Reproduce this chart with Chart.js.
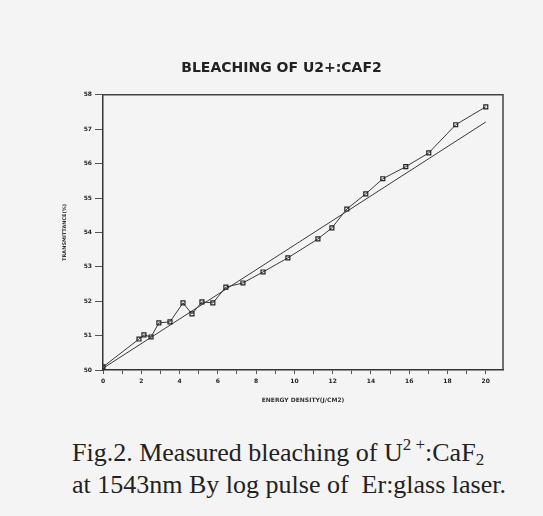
<!DOCTYPE html>
<html>
<head>
<meta charset="utf-8">
<script src="https://cdn.jsdelivr.net/npm/chart.js@4"></script>
<style>
    body { margin: 0; background: #f4f4f4; width: 543px; height: 516px; overflow: hidden; position: relative; }
    #wrap { position: absolute; left: 0; top: 0; width: 543px; height: 416px; }
    #caption {
        position: absolute; left: 72px; top: 437px;
        font-family: "Liberation Serif", serif; font-size: 26px; line-height: 32px;
        color: #222; white-space: nowrap;
    }
    #caption sup { font-size: 17px; line-height: 0; vertical-align: 11px; }
    #caption sub { font-size: 17px; line-height: 0; vertical-align: -4px; }
</style>
</head>
<body>
<div id="wrap"><canvas id="chart" width="543" height="416"></canvas></div>
<div id="caption">Fig.2. Measured bleaching of U<sup>2 +</sup>:CaF<sub>2</sub><br>at 1543nm By log pulse of&nbsp; Er:glass laser.</div>
<script>
const energy = [0, 1.88, 2.14, 2.51, 2.92, 3.50, 4.18, 4.65, 5.17, 5.74, 6.42, 7.31,
    8.36, 9.66, 11.23, 11.96, 12.74, 13.73, 14.62, 15.82, 17.02, 18.43, 20.0];
const transmission = [50.09, 50.90, 51.02, 50.96, 51.37, 51.40, 51.95, 51.63, 51.98, 51.95, 52.41, 52.53,
    52.85, 53.26, 53.81, 54.13, 54.68, 55.12, 55.56, 55.91, 56.31, 57.13, 57.65];

// Straight fit line end points
const fitEnergy = [0, 20];
const fitTransmission = [50.05, 57.21];

const lineColor = '#3a3a3a';
const axisFont = { family: 'DejaVu Sans', size: 6, weight: 'bold' };

// box around the plot: top and right edges
const frame = {
    id: 'frame',
    afterDraw(chart) {
        const a = chart.chartArea;
        const ctx = chart.ctx;
        ctx.save();
        ctx.strokeStyle = '#444';
        ctx.lineWidth = 1.5;
        ctx.beginPath();
        ctx.moveTo(a.left - 1, a.top);
        ctx.lineTo(a.right, a.top);
        ctx.lineTo(a.right, a.bottom);
        ctx.stroke();
        ctx.restore();
    }
};

new Chart(document.getElementById('chart'), {
    type: 'scatter',
    data: {
        datasets: [
            {
                data: energy.map((x, i) => ({ x: x, y: transmission[i] })),
                showLine: true,
                borderColor: lineColor,
                borderWidth: 1,
                pointStyle: 'rect',
                pointRadius: 2.8,
                pointBorderWidth: 1.2,
                pointBorderColor: '#222',
                pointBackgroundColor: 'rgba(0,0,0,0)'
            },
            {
                data: fitEnergy.map((x, i) => ({ x: x, y: fitTransmission[i] })),
                showLine: true,
                borderColor: lineColor,
                borderWidth: 1,
                pointRadius: 0
            }
        ]
    },
    options: {
        responsive: false,
        animation: false,
        layout: { padding: { left: 60, right: 40, top: 0, bottom: 10 } },
        plugins: {
            legend: { display: false },
            tooltip: { enabled: false },
            title: {
                display: true,
                text: 'BLEACHING OF U2+:CAF2',
                color: '#222',
                font: { family: 'DejaVu Sans', size: 14, weight: 'bold' },
                padding: { top: 60, bottom: 18 }
            }
        },
        scales: {
            x: {
                type: 'linear',
                min: 0,
                max: 20.9,
                afterFit: s => { s.height = 36; },
                border: { color: '#333', width: 1.5 },
                grid: { drawOnChartArea: false, tickLength: 4, color: '#555' },
                ticks: {
                    stepSize: 1,
                    includeBounds: false,
                    maxRotation: 0,
                    autoSkip: false,
                    padding: 4,
                    color: '#222',
                    font: axisFont,
                    callback: v => (v % 2 === 0 ? String(v) : '')
                },
                title: {
                    display: true,
                    text: 'ENERGY DENSITY(J/CM2)',
                    color: '#333',
                    font: axisFont,
                    padding: 2
                }
            },
            y: {
                type: 'linear',
                min: 50,
                max: 58,
                afterFit: s => { s.width = 43; },
                border: { color: '#333', width: 1.5 },
                grid: { drawOnChartArea: false, tickLength: 8, color: '#555' },
                ticks: {
                    stepSize: 1,
                    padding: 3,
                    color: '#222',
                    font: axisFont
                },
                title: {
                    display: true,
                    text: 'TRANSMITTANCE(%)',
                    color: '#333',
                    font: { family: 'DejaVu Sans', size: 5, weight: 'bold' },
                    padding: 2
                }
            }
        }
    },
    plugins: [frame]
});
</script>
</body>
</html>
